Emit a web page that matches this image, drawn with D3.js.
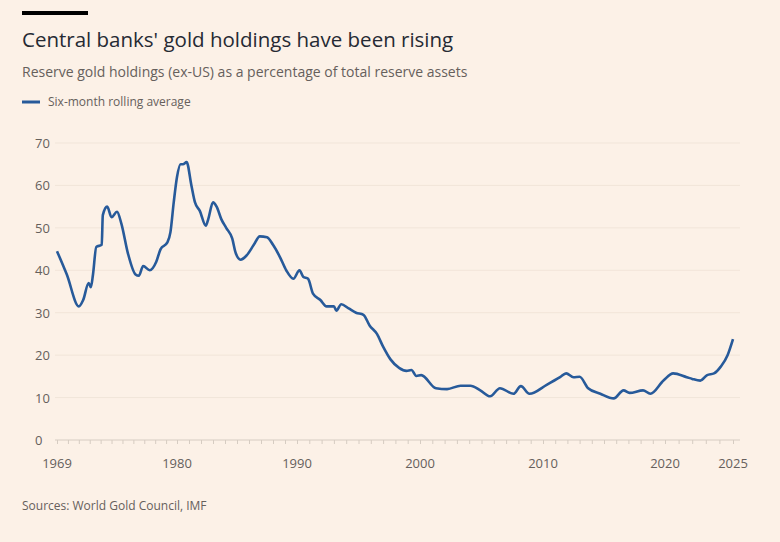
<!DOCTYPE html>
<html><head><meta charset="utf-8">
<script src="https://cdn.jsdelivr.net/npm/d3@7"></script>
<style>body{margin:0;background:#fcf1e7;}svg{display:block;font-family:"Open Sans",sans-serif;}</style>
</head><body><svg id="c" width="780" height="542"></svg>
<script>
const years = [1969.0,1969.9,1971.0,1971.4,1971.9,1972.1,1972.3,1972.6,1973.1,1973.2,1973.6,1974.0,1974.5,1974.9,1975.5,1976.2,1976.5,1976.9,1977.5,1978.1,1978.5,1979.1,1979.4,1979.7,1980.0,1980.3,1980.5,1980.8,1981.2,1981.5,1981.9,1982.4,1982.6,1983.0,1983.3,1983.7,1984.1,1984.6,1984.9,1985.3,1985.8,1986.4,1986.9,1987.5,1988.0,1988.6,1989.1,1989.7,1990.2,1990.5,1990.9,1991.3,1991.9,1992.4,1993.0,1993.2,1993.6,1994.2,1994.8,1995.4,1995.9,1996.5,1997.0,1997.6,1998.3,1998.9,1999.3,1999.7,2000.1,2001.3,2002.2,2003.3,2004.1,2004.9,2005.7,2006.5,2007.6,2008.2,2008.9,2010.3,2011.4,2011.9,2012.5,2013.0,2013.7,2014.7,2015.8,2016.6,2017.1,2018.2,2018.8,2019.9,2020.6,2021.6,2022.0,2022.6,2023.1,2023.6,2024.1,2024.6,2025.0];
const values = [44.5,39,31.5,33,37,36,39,45.5,46,53,55,52.5,53.8,51,44,39,38.7,41,40,42,45,46.5,49,56,62,65,65,65.5,60,56,54,50.5,52,56,55,52,50,47.5,44,42.5,43.5,46,48,47.8,46,43,40,38,40,38.5,38,34.5,33,31.5,31.5,30.5,32,31,30,29.5,27,25,22,19,17,16.3,16.5,15.1,15.3,12.2,12.0,12.8,12.8,11.7,10.3,12.2,10.9,12.7,10.9,13.0,14.8,15.7,14.8,14.9,12.2,10.9,9.8,11.7,11.1,11.7,10.9,14.1,15.7,14.8,14.4,14.0,15.3,15.7,17.3,20.0,23.8];
const xTicks = [1969,1980,1990,2000,2010,2020,2025];
const yTicks = [0,10,20,30,40,50,60,70];

const svg = d3.select("#c");
svg.append("rect").attr("width",780).attr("height",542).attr("fill","#fcf1e7");
svg.append("rect").attr("x",22).attr("y",11).attr("width",66).attr("height",4).attr("fill","#000");
svg.append("text").attr("x",22).attr("y",47).attr("font-size",20.5).attr("font-weight",500).attr("fill","#262a33").text("Central banks' gold holdings have been rising");
svg.append("text").attr("x",22).attr("y",77).attr("font-size",14).attr("fill","#66605c").text("Reserve gold holdings (ex-US) as a percentage of total reserve assets");
svg.append("line").attr("x1",22).attr("x2",40).attr("y1",102).attr("y2",102).attr("stroke","#275a9a").attr("stroke-width",3);
svg.append("text").attr("x",48).attr("y",106).attr("font-size",12).attr("fill","#66605c").text("Six-month rolling average");

const x = d3.scaleLinear().domain(xTicks).range([57,177,297,420,543,665,733]);
const y = d3.scaleLinear().domain([0,70]).range([440,143]);

const gy = svg.append("g");
yTicks.forEach(t=>{
  gy.append("line").attr("x1",55).attr("x2",740).attr("y1",y(t)).attr("y2",y(t))
    .attr("stroke",t===0?"#d6ccc2":"#f1e5d9").attr("stroke-width",1);
  gy.append("text").attr("x",35).attr("y",y(t)+5).attr("font-size",13).attr("fill","#66605c").text(t);
});
const gx = svg.append("g").attr("transform","translate(0,440)");
gx.call(d3.axisBottom(x).tickValues(d3.range(1969,2026)).tickSize(4).tickFormat(""));
gx.select(".domain").remove();
gx.selectAll("line").attr("stroke","#d6ccc2");
xTicks.forEach(t=>{
  svg.append("text").attr("x",x(t)).attr("y",468).attr("text-anchor","middle").attr("font-size",13).attr("fill","#66605c").text(t);
});

const data = years.map((d,i)=>[d,values[i]]);
svg.append("path").datum(data).attr("fill","none").attr("stroke","#275a9a").attr("stroke-width",2.6)
  .attr("stroke-linejoin","round")
  .attr("d",d3.line().x(d=>x(d[0])).y(d=>y(d[1])).curve(d3.curveMonotoneX));

svg.append("text").attr("x",22).attr("y",510).attr("font-size",12).attr("fill","#66605c").text("Sources: World Gold Council, IMF");
</script></body></html>
